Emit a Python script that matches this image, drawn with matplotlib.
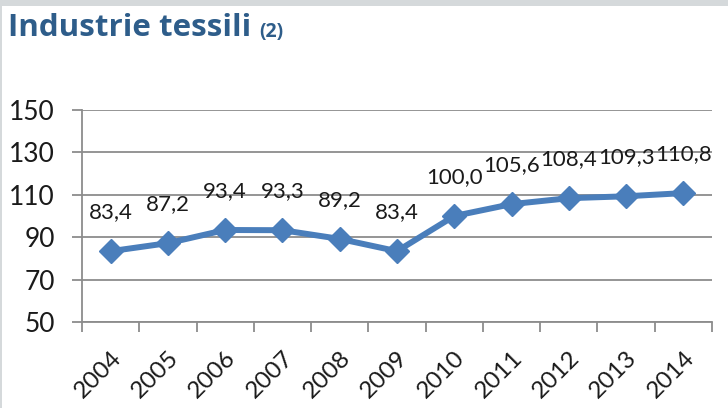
import matplotlib
matplotlib.use("Agg")
import matplotlib.pyplot as plt
from matplotlib.patches import Rectangle

# dati
anni = ["2004", "2005", "2006", "2007", "2008", "2009",
        "2010", "2011", "2012", "2013", "2014"]
valori = [83.4, 87.2, 93.4, 93.3, 89.2, 83.4,
          100.0, 105.6, 108.4, 109.3, 110.8]
etichette = ["83,4", "87,2", "93,4", "93,3", "89,2", "83,4",
             "100,0", "105,6", "108,4", "109,3", "110,8"]
y_ticks = [50, 70, 90, 110, 130, 150]

plt.rcParams["font.family"] = ["Lato", "DejaVu Sans"]

blu = "#4a7ebb"
grigio = "#8c8c8c"

fig = plt.figure(figsize=(7.28, 4.08), dpi=100)
fig.patch.set_facecolor("white")

# cornice grigia in alto e a sinistra
fig.patches.append(Rectangle((0, 1 - 6 / 408), 1, 6 / 408, transform=fig.transFigure,
                             facecolor="#d5d9db", edgecolor="none", zorder=0))
fig.patches.append(Rectangle((0, 0), 2 / 728, 1, transform=fig.transFigure,
                             facecolor="#d5d9db", edgecolor="none", zorder=0))

ax = fig.add_axes([82 / 728, 86 / 408, 630 / 728, 212 / 408])

x = list(range(len(anni)))
ax.plot(x, valori, color=blu, linewidth=4.3, marker="D", markersize=12,
        markerfacecolor=blu, markeredgecolor=blu, zorder=3, clip_on=False)

for xi, v, lab in zip(x, valori, etichette):
    ax.annotate(lab, (xi, v), xytext=(0, 28), textcoords="offset points",
                ha="center", va="center", fontsize=16, color="#1a1a1a")

ax.set_xlim(-0.5, len(anni) - 0.5)
ax.set_ylim(50, 150)
ax.set_yticks(y_ticks)
ax.grid(axis="y", color=grigio, linewidth=1.3)
ax.set_axisbelow(True)

# etichette al centro, tacche ai bordi delle categorie
ax.set_xticks(x)
ax.set_xticklabels(anni, rotation=45, ha="right", rotation_mode="anchor")
ax.tick_params(axis="x", length=0, pad=18, labelsize=17.5, labelcolor="#1a1a1a")
ax.set_xticks([i - 0.5 for i in range(len(anni) + 1)], minor=True)
ax.tick_params(axis="x", which="minor", length=7.5, width=1.3, color=grigio)
ax.tick_params(axis="y", length=7.5, width=1.3, color=grigio, pad=12,
               labelsize=19, labelcolor="#1a1a1a")

for s in ["top", "right"]:
    ax.spines[s].set_visible(False)
for s in ["left", "bottom"]:
    ax.spines[s].set_color(grigio)
    ax.spines[s].set_linewidth(1.3)

# titolo
t1 = fig.text(8 / 728, 1 - 36 / 408, "Industrie tessili", fontsize=22.5,
              fontweight="bold", color="#2e5d8a", ha="left", va="baseline",
              family="Open Sans")
fig.canvas.draw()
bb = t1.get_window_extent()
fig.text((bb.x1 + 8) / 728, 1 - 37 / 408, "(2)", fontsize=14,
         fontweight="bold", color="#2e5d8a", ha="left", va="baseline",
         family="Open Sans")

fig.savefig("out.png", dpi=100)
